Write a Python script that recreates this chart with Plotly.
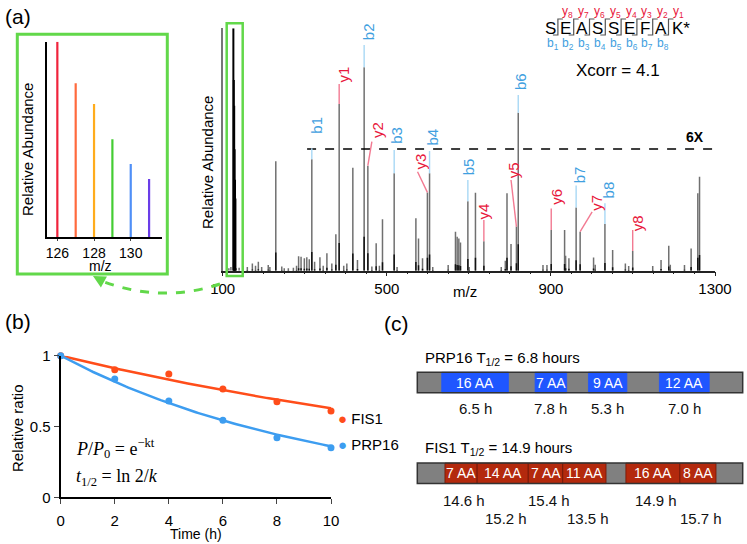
import numpy as np
import plotly.graph_objects as go

W, H = 747, 544
def X(px): return px / W
def Y(py): return 1 - py / H

FONT = "Liberation Sans, Arial, sans-serif"
SERIF = "Liberation Serif, DejaVu Serif, serif"

# ---------------- DATA ----------------
# TMT reporter ions (inset, relative abundance %)
reporter_mz = [126, 127, 128, 129, 130, 131]
reporter_int = [100, 78.7, 68.1, 50.1, 37.5, 29.8]
reporter_colors = ["#f0233c", "#ff6a3d", "#ffac1c", "#44cc33", "#4f8ff7", "#6a3de8"]

# MS/MS spectrum peaks (displayed intensity, % of full scale)
peak_mz = [115, 120, 133, 140, 150, 160, 172.3, 180, 186.9, 195, 211, 215, 229.4, 244, 250,
           260, 272.3, 280, 285, 291, 299, 305, 311, 324, 337, 345, 354, 366, 375.8, 395,
           402.6, 417.2, 428.5, 463.6, 474.1, 482, 489.5, 525, 570.9, 577.3, 587.1, 612,
           649.6, 667.4, 671.5, 675.6, 679.6, 700.8, 716.1, 779, 788.9, 793, 802.8, 880.7,
           890.4, 933.4, 935.8, 943.9, 1004, 1008, 1050.5, 1081.5, 1089.6, 1148.2, 1168.5,
           1187.3, 1191, 1225.6, 1241.8, 1258.1, 1262.3]
peak_int = [1.0, 1.5, 1.0, 1.2, 2.0, 1.5, 3.0, 2.0, 3.7, 1.5, 2.3, 1.5, 45.2, 1.7, 1.0,
            1.0, 1.2, 2.0, 6.0, 5.8, 5.1, 5.5, 4.7, 3.7, 5.5, 2.0, 7.2, 3.0, 15.0, 2.0,
            3.0, 42.5, 4.4, 1.7, 11.3, 2.0, 21.2, 1.5, 21.6, 13.3, 5.1, 1.5,
            2.3, 16.1, 14.0, 13.3, 11.6, 1.5, 32.2, 1.5, 4.1, 31.9, 11.0, 2.3,
            2.3, 16.8, 6.2, 5.1, 5.4, 2.5, 8.5, 3.0, 1.9, 1.9, 4.4,
            10.3, 2.5, 2.3, 9.2, 31.9, 38.8]

# annotated fragment ions
ion_names = ["b1", "y1", "b2", "y2", "b3", "y3", "b4", "b5", "y4", "y5", "b6", "y6", "b7", "y7", "b8", "y8"]
ion_mz = [317.2, 383.9, 444.8, 453.8, 518.0, 599.0, 604.2, 697.6, 736.6, 816.0, 820.4, 900.8, 961.5, 971.3, 1031.7, 1099.4]
ion_int = [46.0, 68.8, 83.9, 43.3, 40.2, 32.3, 40.2, 28.7, 12.2, 18.2, 65.2, 16.8, 26.1, 16.1, 19.3, 8.1]
MAGNIFICATION = 6

peptide = ["S", "E", "A", "S", "S", "E", "F", "A", "K*"]
xcorr = 4.1

# degradation kinetics
time_h = [0, 2, 4, 6, 8, 10]
fis1_ratio = [1.0, 0.90, 0.87, 0.765, 0.675, 0.61]
prp16_ratio = [1.0, 0.835, 0.68, 0.545, 0.42, 0.35]
half_life = {"FIS1": 14.9, "PRP16": 6.8}

# peptide half-lives along each protein (bar schematic units 0-100)
prp_start = [7.5, 36.2, 52.6, 74.4]
prp_end = [28.0, 45.9, 64.4, 89.7]
prp_aa = ["16 AA", "7 AA", "9 AA", "12 AA"]
prp_t = ["6.5 h", "7.8 h", "5.3 h", "7.0 h"]
fis_start = [8.5, 18.4, 34.1, 44.7, 64.1, 80.7]
fis_end = [18.4, 34.1, 44.7, 58.0, 80.7, 91.8]
fis_aa = ["7 AA", "14 AA", "7 AA", "11 AA", "16 AA", "8 AA"]
fis_t = ["14.6 h", "15.2 h", "15.4 h", "13.5 h", "14.9 h", "15.7 h"]

# ---------------- LAYOUT helpers ----------------
# label placement for ions: (line end m/z, line end %, label m/z, label %)
label_pos = {
    "b1": (317.2, 50.5, 326.5, 60.1), "y1": (383.9, 77.0, 394.3, 81.1),
    "b2": (444.8, 93.1, 455.3, 98.6), "y2": (463.6, 53.2, 475.8, 58.0),
    "b3": (518.0, 49.8, 524.6, 56.0), "y3": (574.9, 40.8, 583.2, 45.0),
    "b4": (604.2, 49.4, 612.5, 55.3), "b5": (697.6, 37.4, 699.3, 42.9),
    "y4": (736.6, 20.9, 736.0, 24.3), "y5": (802.8, 37.4, 807.7, 41.5),
    "b6": (820.4, 72.5, 825.5, 78.0), "y6": (900.8, 25.7, 915.0, 30.5),
    "b7": (961.5, 35.1, 971.9, 39.5), "y7": (1000.5, 24.3, 1010.2, 28.1),
    "b8": (1031.7, 27.8, 1042.7, 33.3), "y8": (1099.4, 16.8, 1110.3, 19.6),
}
B_COL, B_LINE = "#3fa0e0", "#a8d8f5"
Y_COL, Y_LINE = "#e8183c", "#f27a92"

fig = go.Figure()
ann = []
shapes = []

def stems(xs, ys):
    xx, yy = [], []
    for m, h in zip(xs, ys):
        xx += [m, m, None]
        yy += [0, h, None]
    return xx, yy

# ---- main spectrum
all_mz = peak_mz + ion_mz
all_int = peak_int + ion_int
xx, yy = stems(all_mz, all_int)
fig.add_trace(go.Scatter(x=xx, y=yy, mode="lines", line=dict(color="#707070", width=1.5),
                         xaxis="x", yaxis="y", hoverinfo="skip"))
xx, yy = stems([m for m in all_mz if m > 140], [h / MAGNIFICATION for m, h in zip(all_mz, all_int) if m > 140])
fig.add_trace(go.Scatter(x=xx, y=yy, mode="lines", line=dict(color="#111111", width=1.5),
                         xaxis="x", yaxis="y", hoverinfo="skip"))
xx, yy = stems(reporter_mz, reporter_int)
fig.add_trace(go.Scatter(x=xx, y=yy, mode="lines", line=dict(color="#000000", width=2),
                         xaxis="x", yaxis="y", hoverinfo="skip"))

# 6X line
fig.add_trace(go.Scatter(x=[305.7, 1296], y=[50.2, 50.2], mode="lines",
                         line=dict(color="black", width=1.6, dash="dash"), xaxis="x", yaxis="y"))
ann.append(dict(x=1252, y=51, xref="x", yref="y", text="<b>6X</b>", showarrow=False,
                yanchor="bottom", font=dict(size=14, color="black", family=FONT)))

for name, m, h in zip(ion_names, ion_mz, ion_int):
    lx, ly, tx, ty = label_pos[name]
    col, lcol = (B_COL, B_LINE) if name.startswith("b") else (Y_COL, Y_LINE)
    fig.add_trace(go.Scatter(x=[m, lx], y=[h, ly], mode="lines", line=dict(color=lcol, width=1.4),
                             xaxis="x", yaxis="y", hoverinfo="skip"))
    ann.append(dict(x=tx, y=ty, xref="x", yref="y", text=name, textangle=-90, showarrow=False,
                    font=dict(size=15, color=col, family=FONT)))

# ---- inset reporter ions
for m, h, c in zip(reporter_mz, reporter_int, reporter_colors):
    fig.add_trace(go.Scatter(x=[m, m], y=[0, h], mode="lines", line=dict(color=c, width=2.2),
                             xaxis="x2", yaxis="y2", hoverinfo="skip"))

# ---- panel b
t_fit = np.linspace(0, 10, 101)
for name, vals, col in [("FIS1", fis1_ratio, "#ff4d1a"), ("PRP16", prp16_ratio, "#3d9df0")]:
    k = np.log(2) / half_life[name]
    fig.add_trace(go.Scatter(x=t_fit, y=np.exp(-k * t_fit), mode="lines", line=dict(color=col, width=2.5),
                             xaxis="x3", yaxis="y3", hoverinfo="skip"))
    fig.add_trace(go.Scatter(x=time_h, y=vals, mode="markers", marker=dict(color=col, size=7),
                             cliponaxis=False, xaxis="x3", yaxis="y3"))

ann.append(dict(x=X(336), y=Y(418), xref="paper", yref="paper", xanchor="left", showarrow=False,
                text='<span style="color:#ff4d1a">●</span> FIS1', font=dict(size=15, family=FONT, color="black")))
ann.append(dict(x=X(336), y=Y(444), xref="paper", yref="paper", xanchor="left", showarrow=False,
                text='<span style="color:#3d9df0">●</span> PRP16', font=dict(size=15, family=FONT, color="black")))
ann.append(dict(x=X(74), y=Y(448), xref="paper", yref="paper", xanchor="left", showarrow=False,
                text="<i>P</i>/<i>P</i><sub>0</sub> = e<sup>−kt</sup>", font=dict(size=18, family=SERIF, color="black")))
ann.append(dict(x=X(74), y=Y(477), xref="paper", yref="paper", xanchor="left", showarrow=False,
                text="<i>t</i><sub>1/2</sub> = ln 2/<i>k</i>", font=dict(size=18, family=SERIF, color="black")))

# ---- panel c
BW = 0.225
for row, starts, ends, labels, col, lc in [
    (1, prp_start, prp_end, prp_aa, "#1f56ff", "#1f56ff"),
    (0, fis_start, fis_end, fis_aa, "#b3290d", "#6e1606")]:
    fig.add_trace(go.Bar(orientation="h", y=[row], x=[100], base=[0], width=BW,
                         marker=dict(color="#808080", line=dict(width=0)), xaxis="x4", yaxis="y4"))
    fig.add_trace(go.Bar(orientation="h", y=[row] * len(starts), x=[e - s for s, e in zip(starts, ends)],
                         base=starts, width=BW, marker=dict(color=col, line=dict(color=lc, width=0.8)),
                         xaxis="x4", yaxis="y4"))
    fig.add_trace(go.Bar(orientation="h", y=[row], x=[100], base=[0], width=BW,
                         marker=dict(color="rgba(0,0,0,0)", line=dict(color="#333333", width=1.5)),
                         xaxis="x4", yaxis="y4"))
    for s, e, lab in zip(starts, ends, labels):
        ann.append(dict(x=(s + e) / 2, y=row, xref="x4", yref="y4", text=lab, showarrow=False,
                        font=dict(size=14, color="white", family=FONT)))

for s, e, lab in zip(prp_start, prp_end, prp_t):
    ann.append(dict(x=(s + e) / 2, y=0.716, xref="x4", yref="y4", text=lab, showarrow=False,
                    font=dict(size=15, color="#111", family=FONT)))
for i, (s, e, lab) in enumerate(zip(fis_start, fis_end, fis_t)):
    ann.append(dict(x=(s + e) / 2 + 1, y=-0.294 if i % 2 == 0 else -0.496, xref="x4", yref="y4", text=lab,
                    showarrow=False, font=dict(size=15, color="#111", family=FONT)))
ann.append(dict(x=1.8, y=1.2665, xref="x4", yref="y4", xanchor="left", showarrow=False,
                text="PRP16 T<sub>1/2</sub> = 6.8 hours", font=dict(size=15, color="black", family=FONT)))
ann.append(dict(x=1.8, y=0.275, xref="x4", yref="y4", xanchor="left", showarrow=False,
                text="FIS1 T<sub>1/2</sub> = 14.9 hours", font=dict(size=15, color="black", family=FONT)))

# ---- peptide sequence graphic
letter_x = [550 + 15.8 * i for i in range(len(peptide))]
for i, aa in enumerate(peptide):
    if aa == "K*":
        ann.append(dict(x=X(letter_x[i] - 6), y=Y(28), xref="paper", yref="paper", xanchor="left",
                        text="K*", showarrow=False, font=dict(size=17, color="black", family=FONT)))
    else:
        ann.append(dict(x=X(letter_x[i]), y=Y(28), xref="paper", yref="paper", text=aa,
                        showarrow=False, font=dict(size=17, color="black", family=FONT)))
n = len(peptide)
for i in range(n - 1):
    mid = (letter_x[i] + letter_x[i + 1]) / 2
    shapes.append(dict(type="path", xref="paper", yref="paper", line=dict(color="#555", width=1.2),
                       path=f"M {X(mid-5)},{Y(35)} L {X(mid)},{Y(35)} L {X(mid)},{Y(19)} L {X(mid+5)},{Y(19)}"))
    ann.append(dict(x=X(letter_x[i + 1] + 2), y=Y(12), xref="paper", yref="paper", showarrow=False,
                    text=f"y<sub>{n-1-i}</sub>", font=dict(size=12, color=Y_COL, family=FONT)))
    ann.append(dict(x=X(letter_x[i] + 2.5), y=Y(44), xref="paper", yref="paper", showarrow=False,
                    text=f"b<sub>{i+1}</sub>", font=dict(size=12, color=B_COL, family=FONT)))
ann.append(dict(x=X(618), y=Y(70), xref="paper", yref="paper", showarrow=False,
                text=f"Xcorr = {xcorr}", font=dict(size=17, color="black", family=FONT)))

# ---- axis titles & panel labels
def txt(px, py, s, size=15, angle=0, **kw):
    ann.append(dict(x=X(px), y=Y(py), xref="paper", yref="paper", text=s, textangle=angle,
                    showarrow=False, font=dict(size=size, color="black", family=FONT), **kw))

txt(208, 163, "Relative Abundance", angle=-90)
txt(465, 291, "m/z")
txt(27, 150, "Relative Abundance", angle=-90)
txt(100, 266, "m/z", size=14)
txt(17, 428, "Relative ratio", angle=-90)
txt(196, 534, "Time (h)", size=14)
txt(18, 16, "(a)", size=21)
txt(18, 321, "(b)", size=21)
txt(396, 323, "(c)", size=21)

# ---- green boxes and curved arrow
GREEN = "#62d84a"
shapes.append(dict(type="rect", xref="paper", yref="paper", x0=X(17.3), x1=X(167.3), y0=Y(274), y1=Y(34.3),
                   line=dict(color=GREEN, width=3)))
shapes.append(dict(type="rect", xref="paper", yref="paper", x0=X(226.7), x1=X(242.7), y0=Y(276), y1=Y(23.3),
                   line=dict(color=GREEN, width=2.5)))
shapes.append(dict(type="path", xref="paper", yref="paper", line=dict(color=GREEN, width=3, dash="dash"),
                   path=f"M {X(220)},{Y(284)} Q {X(160)},{Y(304)} {X(99)},{Y(280)}"))
ann.append(dict(x=X(93), y=Y(276), xref="paper", yref="paper", text="", showarrow=True,
                ax=9, ay=5, arrowhead=2, arrowsize=1, arrowwidth=2.5, arrowcolor=GREEN))

# explicit anchors (paper 'auto' anchoring would shift texts)
for a in ann:
    a.setdefault("xanchor", "center")
    a.setdefault("yanchor", "middle")

# ---------------- AXES ----------------
ax_common = dict(showgrid=False, zeroline=False, automargin=False)
fig.update_layout(
    width=W, height=H, margin=dict(l=0, r=0, t=0, b=0, pad=0, autoexpand=False),
    paper_bgcolor="white", plot_bgcolor="rgba(0,0,0,0)", showlegend=False, barmode="overlay",
    font=dict(family=FONT, color="black"),
    xaxis=dict(domain=[X(222.7), X(715)], range=[100, 1300], anchor="y", showline=True,
               linecolor="#222", linewidth=1.5, ticks="outside", tick0=100, dtick=400, ticklen=4,
               tickcolor="#222", minor=dict(dtick=50, ticklen=2, ticks="outside", tickcolor="#222"),
               tickfont=dict(size=15), **ax_common),
    yaxis=dict(domain=[Y(270.7), Y(28.3)], range=[0, 100], anchor="x", showline=True,
               linecolor="#777", linewidth=1.5, showticklabels=False, ticks="", **ax_common),
    xaxis2=dict(domain=[X(46.7), X(162.3)], range=[125.42, 131.72], anchor="y2", showline=True,
                linecolor="black", linewidth=1.5, tickvals=[126, 128, 130], ticks="outside", ticklen=2,
                tickfont=dict(size=14), **ax_common),
    yaxis2=dict(domain=[Y(237.3), Y(41.7)], range=[0, 100], anchor="x2", showline=True,
                linecolor="black", linewidth=2, showticklabels=False, ticks="", **ax_common),
    xaxis3=dict(domain=[X(60.7), X(331)], range=[0, 10], anchor="y3", showline=True,
                linecolor="black", linewidth=2, tickvals=[0, 2, 4, 6, 8, 10], ticks="outside",
                ticklen=5, ticklabelstandoff=4, tickfont=dict(size=15), **ax_common),
    yaxis3=dict(domain=[Y(497.3), Y(355.7)], range=[0, 1], anchor="x3", showline=True,
                linecolor="black", linewidth=2, tickvals=[0, 0.5, 1], ticktext=["0", "0.5", "1"],
                ticks="outside", ticklen=5, tickfont=dict(size=15), **ax_common),
    xaxis4=dict(domain=[X(414.05), X(745.95)], range=[-1, 101], anchor="y4", visible=False, **ax_common),
    yaxis4=dict(domain=[Y(520), Y(340)], range=[-0.514, 1.468], anchor="x4", visible=False, **ax_common),
    annotations=ann, shapes=shapes,
)

fig.write_html("out.html", config={"displayModeBar": False},
               post_script="document.body.style.margin='0';document.body.style.overflow='hidden';")
